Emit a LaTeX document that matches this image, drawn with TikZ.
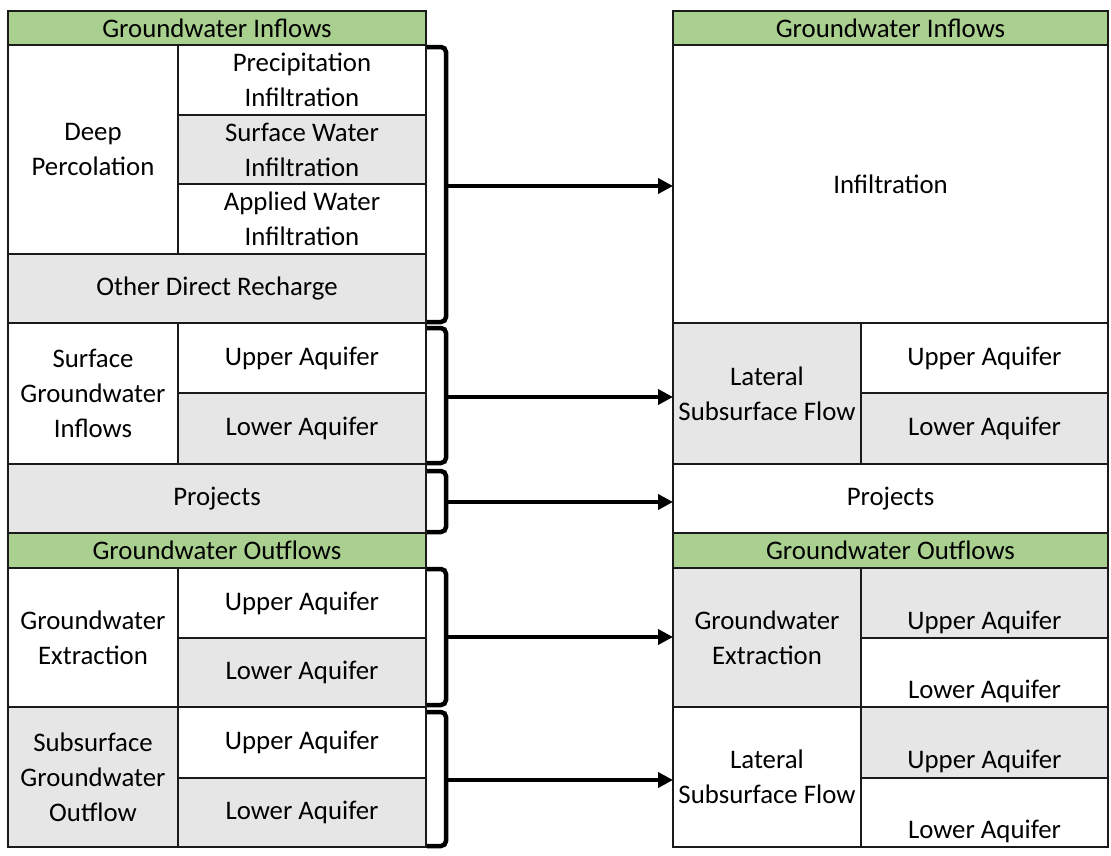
\documentclass[tikz,border=0pt]{standalone}
\usepackage{fontspec}
\setmainfont{Carlito}
\usetikzlibrary{arrows.meta}
\definecolor{hdr}{HTML}{A9D08E}
\definecolor{shade}{HTML}{E7E6E6}
\definecolor{rule}{HTML}{1A1A1A}
\newcommand\botcell[2]{\parbox[c][#1][b]{230pt}{\centering #2}}
\begin{document}
\begin{tikzpicture}[x=1pt,y=-1pt,
  cell/.style={draw=rule, line width=1.8pt, inner sep=0pt, outer sep=0pt,
    anchor=north west, align=center, fill=white,
    font=\fontsize{26.8}{35}\selectfont},
  head/.style={cell, fill=hdr},
  grey/.style={fill=shade},
  brk/.style={line width=4.5pt, rounded corners=5pt, line cap=butt},
  flow/.style={line width=4.3pt, -{Triangle[length=15pt,width=15pt]}}]
\useasboundingbox (0,0) rectangle (1111,855);

% ---- left table: inflows
\node[head, minimum width=418pt, minimum height=34pt] (lhin) at (8,11) {Groundwater Inflows};
\node[cell, minimum width=170pt, minimum height=209pt] (ldp) at (8,45) {Deep\\Percolation};
\node[cell, minimum width=248pt, minimum height=70pt] (lpi) at (178,45) {Precipitation\\Infiltration};
\node[cell, grey, minimum width=248pt, minimum height=69pt] (lswi) at (178,115) {Surface Water\\Infiltration};
\node[cell, minimum width=248pt, minimum height=70pt] (lawi) at (178,184) {Applied Water\\Infiltration};
\node[cell, grey, minimum width=418pt, minimum height=69pt] (lodr) at (8,254) {Other Direct Recharge};
\node[cell, minimum width=170pt, minimum height=141pt] (lsgi) at (8,323) {Surface\\Groundwater\\Inflows};
\node[cell, minimum width=248pt, minimum height=70pt] (lsgu) at (178,323) {Upper Aquifer};
\node[cell, grey, minimum width=248pt, minimum height=71pt] (lsgl) at (178,393) {Lower Aquifer};
\node[cell, grey, minimum width=418pt, minimum height=69pt] (lprj) at (8,464) {Projects};

% ---- left table: outflows
\node[head, minimum width=418pt, minimum height=35pt] (lhout) at (8,533) {Groundwater Outflows};
\node[cell, minimum width=170pt, minimum height=139pt] (lgwe) at (8,568) {Groundwater\\Extraction};
\node[cell, minimum width=248pt, minimum height=70pt] (lgeu) at (178,568) {Upper Aquifer};
\node[cell, grey, minimum width=248pt, minimum height=69pt] (lgel) at (178,638) {Lower Aquifer};
\node[cell, grey, minimum width=170pt, minimum height=140pt] (lsgo) at (8,707) {Subsurface\\Groundwater\\Outflow};
\node[cell, minimum width=248pt, minimum height=71pt] (lsou) at (178,707) {Upper Aquifer};
\node[cell, grey, minimum width=248pt, minimum height=69pt] (lsol) at (178,778) {Lower Aquifer};

% ---- right table: inflows
\node[head, minimum width=435pt, minimum height=34pt] (rhin) at (673,11) {Groundwater Inflows};
\node[cell, minimum width=435pt, minimum height=278pt] (rinf) at (673,45) {Infiltration};
\node[cell, grey, minimum width=188pt, minimum height=141pt] (rlsf) at (673,323) {Lateral\\Subsurface Flow};
\node[cell, minimum width=247pt, minimum height=70pt] (rlsu) at (861,323) {Upper Aquifer};
\node[cell, grey, minimum width=247pt, minimum height=71pt] (rlsl) at (861,393) {Lower Aquifer};
\node[cell, minimum width=435pt, minimum height=69pt] (rprj) at (673,464) {Projects};

% ---- right table: outflows (aquifer labels sit low in their cells)
\node[head, minimum width=435pt, minimum height=35pt] (rhout) at (673,533) {Groundwater Outflows};
\node[cell, grey, minimum width=188pt, minimum height=139pt] (rgwe) at (673,568) {Groundwater\\Extraction};
\node[cell, grey, minimum width=247pt, minimum height=70pt] (rgeu) at (861,568) {\botcell{57pt}{Upper Aquifer}};
\node[cell, minimum width=247pt, minimum height=69pt] (rgel) at (861,638) {\botcell{56pt}{Lower Aquifer}};
\node[cell, minimum width=188pt, minimum height=140pt] (rlat) at (673,707) {Lateral\\Subsurface Flow};
\node[cell, grey, minimum width=247pt, minimum height=71pt] (rlau) at (861,707) {\botcell{57pt}{Upper Aquifer}};
\node[cell, minimum width=247pt, minimum height=69pt] (rlal) at (861,778) {\botcell{56pt}{Lower Aquifer}};

% ---- brackets gathering the left rows, with their tick points
\draw[brk] (427,47) -- (446,47) -- (446,322) -- (427,322);
\coordinate (k1) at (446,186);
\draw[brk] (427,328) -- (446,328) -- (446,463) -- (427,463);
\coordinate (k2) at (446,397);
\draw[brk] (427,471) -- (446,471) -- (446,532) -- (427,532);
\coordinate (k3) at (446,502);
\draw[brk] (427,569) -- (446,569) -- (446,705) -- (427,705);
\coordinate (k4) at (446,637);
\draw[brk] (427,712) -- (446,712) -- (446,846) -- (427,846);
\coordinate (k5) at (446,780);

% ---- flows into the right table
\draw[flow] (k1) -- (k1 -| rinf.west);
\draw[flow] (k2) -- (k2 -| rlsf.west);
\draw[flow] (k3) -- (k3 -| rprj.west);
\draw[flow] (k4) -- (k4 -| rgwe.west);
\draw[flow] (k5) -- (k5 -| rlat.west);
\end{tikzpicture}
\end{document}
